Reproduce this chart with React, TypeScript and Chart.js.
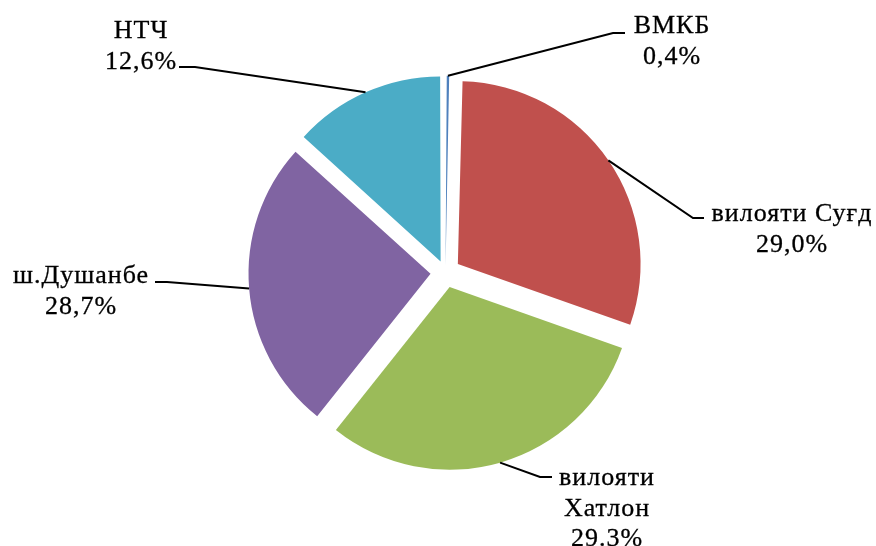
import React, { useEffect, useRef } from "react";
import { Chart, registerables } from "chart.js";

Chart.register(...registerables);

const categories = ["ВМКБ", "вилояти Суғд", "вилояти Хатлон", "ш.Душанбе", "НТЧ"];
// slice sizes as drawn in the picture
const values = [0.4, 30.0, 30.3, 26.0, 13.3];
// label texts as printed in the picture
const valueLabels = ["0,4%", "29,0%", "29.3%", "28,7%", "12,6%"];
const labelLines = [["ВМКБ"], ["вилояти Суғд"], ["вилояти", "Хатлон"], ["ш.Душанбе"], ["НТЧ"]];
const colors = ["#4F81BD", "#C0504D", "#9BBB59", "#8064A2", "#4BACC6"];
const offsets = [30, 60, 60, 60, 48];

// label placement: text centre x, first baseline y, leader elbow and end
const labelLayout = [
  { tx: 672, ty: 33, elbow: [613, 33], end: [625, 33] },
  { tx: 792, ty: 221, elbow: [693, 218], end: [704, 218] },
  { tx: 607, ty: 485, elbow: [540, 477], end: [552, 477] },
  { tx: 81, ty: 283, elbow: [167, 282], end: [155, 282] },
  { tx: 141, ty: 38, elbow: [195, 67], end: [179, 67] },
];

const FONT = '26px "Liberation Serif", "Times New Roman", serif';
const LINE_H = 30.5;

const labelPlugin = {
  id: "outerLabels",
  afterDraw(chart: any) {
    const ctx = chart.ctx;
    const meta = chart.getDatasetMeta(0);
    ctx.save();
    meta.data.forEach((arc: any, i: number) => {
      const p = arc.getProps(["x", "y", "startAngle", "endAngle", "outerRadius", "circumference"], true);
      const mid = (p.startAngle + p.endAngle) / 2;
      const shift = offsets[i] / 4;
      const bump = shift * (1 - Math.sin(Math.min(Math.PI, p.circumference || 0)));
      const r = p.outerRadius + shift + bump;
      const ax = p.x + Math.cos(mid) * r;
      const ay = p.y + Math.sin(mid) * r;
      const L = labelLayout[i];
      ctx.beginPath();
      ctx.strokeStyle = "#000";
      ctx.lineWidth = 2;
      ctx.moveTo(ax, ay);
      ctx.lineTo(L.elbow[0], L.elbow[1]);
      ctx.lineTo(L.end[0], L.end[1]);
      ctx.stroke();
      ctx.fillStyle = "#000";
      ctx.strokeStyle = "#000";
      ctx.lineWidth = 0.3;
      ctx.font = FONT;
      try { (ctx as any).letterSpacing = "1px"; } catch (e) {}
      ctx.textAlign = "center";
      ctx.textBaseline = "alphabetic";
      const lines = [...labelLines[i], valueLabels[i]];
      lines.forEach((t, k) => {
        ctx.fillText(t, L.tx, L.ty + k * LINE_H);
        ctx.strokeText(t, L.tx, L.ty + k * LINE_H);
      });
    });
    ctx.restore();
  },
};

export default function App() {
  const ref = useRef<HTMLCanvasElement>(null);
  useEffect(() => {
    if (!ref.current) return;
    const chart = new Chart(ref.current, {
      type: "pie",
      data: {
        labels: categories,
        datasets: [
          {
            data: values,
            backgroundColor: colors,
            borderWidth: 0,
            offset: offsets,
          },
        ],
      },
      options: {
        responsive: false,
        animation: false,
        radius: 182,
        layout: { padding: { left: 15, top: 0, right: 0, bottom: 1 } },
        plugins: {
          legend: { display: false },
          tooltip: { enabled: false },
        },
      },
      plugins: [labelPlugin],
    } as any);
    return () => chart.destroy();
  }, []);
  return (
    <div style={{ position: "fixed", left: 0, top: 0, width: 876, height: 546, background: "#fff" }}>
      <canvas ref={ref} width={876} height={546} />
    </div>
  );
}
